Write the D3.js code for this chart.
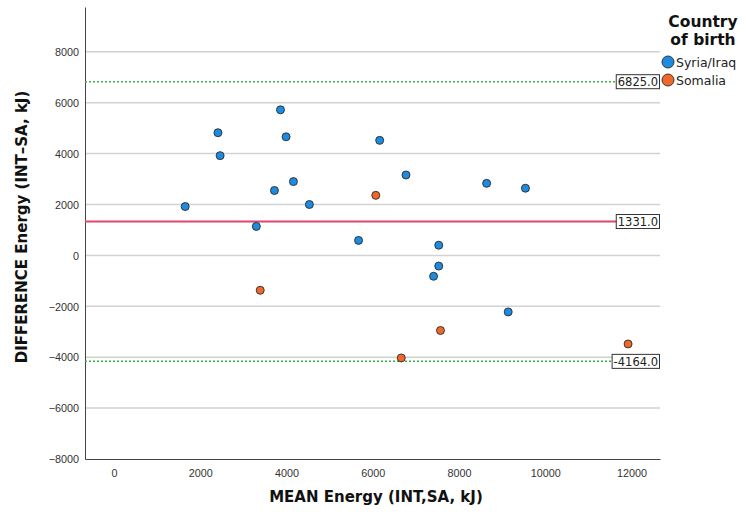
<!DOCTYPE html>
<html>
<head>
<meta charset="utf-8">
<script src="https://cdn.jsdelivr.net/npm/d3@7"></script>
<style>
  body { margin: 0; background: #fff; }
  svg { font-family: "DejaVu Sans", sans-serif; }
  .tick text { fill: #333; font-size: 10.8px; }
  .axislabel { font-weight: bold; font-size: 15px; fill: #111; }
</style>
</head>
<body>
<div id="chart"></div>
<script>
// data
var syriaX = [1650, 2410, 2460, 3300, 3720, 3860, 3990, 4160, 4530, 5670, 6160, 6770, 7410, 7530, 7530, 8640, 9140, 9540];
var syriaY = [1920, 4820, 3920, 1140, 2550, 5720, 4660, 2900, 2000, 590, 4520, 3160, -820, 400, -420, 2830, -2220, 2640];
var somaliaX = [3390, 6070, 6660, 7570, 11920];
var somaliaY = [-1370, 2360, -4030, -2950, -3480];

var groups = ["Syria/Iraq", "Somalia"];
var colors = ["#1c8be0", "#f0672a"];

var meanDiff = 1331.0;
var upperLoA = 6825.0;
var lowerLoA = -4164.0;

var xTicks = [0, 2000, 4000, 6000, 8000, 10000, 12000];
var yTicks = [-8000, -6000, -4000, -2000, 0, 2000, 4000, 6000, 8000];

var margin = { top: 7, right: 86, bottom: 57, left: 85 };
var W = 746, H = 516;
var width = W - margin.left - margin.right;
var height = H - margin.top - margin.bottom;

var svg = d3.select("#chart").append("svg")
  .attr("width", W)
  .attr("height", H);

var g = svg.append("g")
  .attr("transform", "translate(" + margin.left + "," + margin.top + ")");

var x = d3.scaleLinear().domain([-673, 12660]).range([0, width]);
var y = d3.scaleLinear().domain([-8000, 9760]).range([height, 0]);

// gridlines
g.selectAll(".grid")
  .data(yTicks.filter(function (d) { return d > -8000; }))
  .enter().append("line")
  .attr("class", "grid")
  .attr("x1", 0).attr("x2", width)
  .attr("y1", function (d) { return y(d); })
  .attr("y2", function (d) { return y(d); })
  .attr("stroke", "#d2d2d2")
  .attr("stroke-width", 1.5);

// axes
var xAxis = g.append("g")
  .attr("transform", "translate(0," + height + ")")
  .call(d3.axisBottom(x).tickValues(xTicks).tickSize(0).tickPadding(10).tickFormat(d3.format("d")));
var yAxis = g.append("g")
  .call(d3.axisLeft(y).tickValues(yTicks).tickSize(0).tickPadding(6).tickFormat(d3.format("d")));
[xAxis, yAxis].forEach(function (a) {
  a.select(".domain").attr("stroke", "#444").attr("stroke-width", 1);
});
yAxis.selectAll(".tick text").attr("dy", "0.35em");

// reference lines
function refLine(v, color, dash, w) {
  g.append("line")
    .attr("x1", 0).attr("x2", width)
    .attr("y1", y(v)).attr("y2", y(v))
    .attr("stroke", color)
    .attr("stroke-width", w)
    .attr("stroke-dasharray", dash);
  var lbl = g.append("g").attr("transform", "translate(" + width + "," + y(v) + ")");
  var t = lbl.append("text")
    .attr("text-anchor", "end")
    .attr("x", -2)
    .attr("dy", "0.36em")
    .style("font-size", "11.5px")
    .style("fill", "#222")
    .text(v.toFixed(1));
  var bb = t.node().getBBox();
  lbl.insert("rect", "text")
    .attr("x", bb.x - 1.5).attr("y", -7)
    .attr("width", bb.width + 3).attr("height", 14)
    .attr("fill", "#fff")
    .attr("stroke", "#333")
    .attr("stroke-width", 1);
}
refLine(upperLoA, "#3db040", "2,2", 1.5);
refLine(lowerLoA, "#3db040", "2,2", 1.5);
refLine(meanDiff, "#e0456c", null, 2);

// points
function drawPoints(xs, ys, color) {
  g.selectAll(null)
    .data(xs.map(function (v, i) { return [v, ys[i]]; }))
    .enter().append("circle")
    .attr("cx", function (d) { return x(d[0]); })
    .attr("cy", function (d) { return y(d[1]); })
    .attr("r", 4)
    .attr("fill", color)
    .attr("stroke", "#2a2a2a")
    .attr("stroke-width", 0.9);
}
drawPoints(syriaX, syriaY, colors[0]);
drawPoints(somaliaX, somaliaY, colors[1]);

// axis labels
svg.append("text")
  .attr("class", "axislabel")
  .attr("text-anchor", "middle")
  .attr("x", 376)
  .attr("y", 502)
  .text("MEAN Energy (INT,SA, kJ)");

svg.append("text")
  .attr("class", "axislabel")
  .attr("text-anchor", "middle")
  .attr("transform", "translate(27,227) rotate(-90)")
  .text("DIFFERENCE Energy (INT\u2013SA, kJ)");

// legend
var legend = svg.append("g");
legend.append("text")
  .attr("text-anchor", "middle")
  .attr("x", 703).attr("y", 27)
  .style("font-weight", "bold").style("font-size", "15.5px").style("fill", "#111")
  .text("Country");
legend.append("text")
  .attr("text-anchor", "middle")
  .attr("x", 703).attr("y", 45)
  .style("font-weight", "bold").style("font-size", "15.5px").style("fill", "#111")
  .text("of birth");
groups.forEach(function (name, i) {
  legend.append("circle")
    .attr("cx", 668).attr("cy", 62 + i * 18)
    .attr("r", 6)
    .attr("fill", colors[i])
    .attr("stroke", "#2a2a2a")
    .attr("stroke-width", 0.9);
  legend.append("text")
    .attr("x", 676).attr("y", 62 + i * 18)
    .attr("dy", "0.36em")
    .style("font-size", "12.5px").style("fill", "#222")
    .text(name);
});
</script>
</body>
</html>
